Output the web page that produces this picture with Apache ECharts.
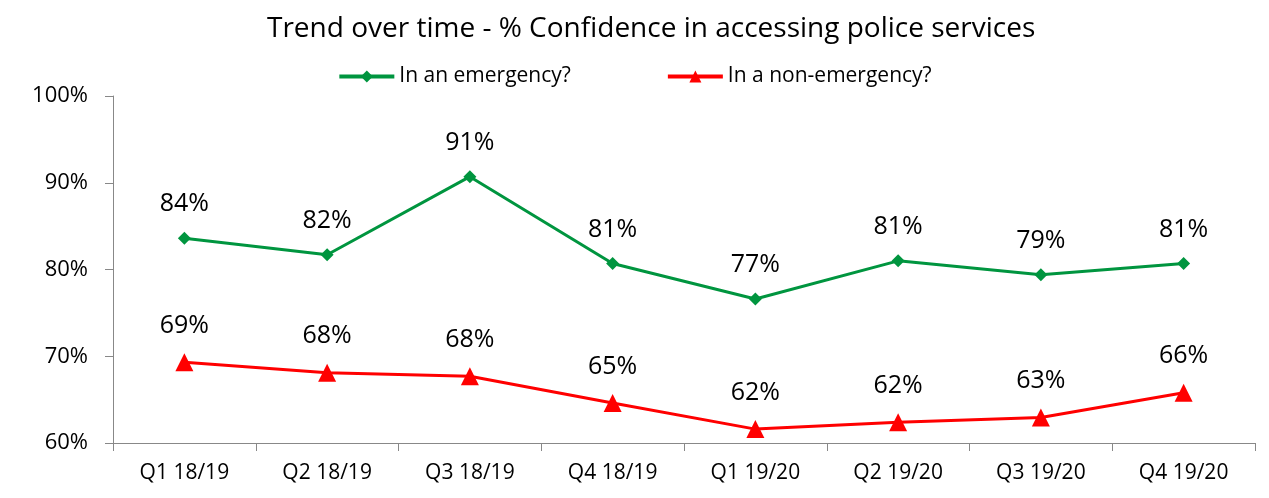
<!DOCTYPE html>
<html><head><meta charset="utf-8">
<script src="https://cdn.jsdelivr.net/npm/echarts@6/dist/echarts.min.js"></script>
<style>html,body{margin:0;padding:0;background:#fff}#c{width:1269px;height:498px}</style>
</head><body><div id="c"></div>
<script>
const categories = ['Q1 18/19','Q2 18/19','Q3 18/19','Q4 18/19','Q1 19/20','Q2 19/20','Q3 19/20','Q4 19/20'];
const emergency = [83.6, 81.7, 90.7, 80.7, 76.6, 81.0, 79.4, 80.7];
const nonEmergency = [69.3, 68.1, 67.7, 64.6, 61.6, 62.4, 62.95, 65.8];
const yTicks = [60, 70, 80, 90, 100];
const FONT = '"Open Sans", sans-serif';
const chart = echarts.init(document.getElementById('c'));
chart.setOption({
  animation: false,
  textStyle: { fontFamily: FONT },
  title: { text: 'Trend over time - % Confidence in accessing police services', left: 262, top: 10,
    textStyle: { fontFamily: FONT, fontSize: 28, fontWeight: 'normal', color: '#000' } },
  legend: { top: 61, left: 'center', itemWidth: 55, itemHeight: 15, itemGap: 95,
    lineStyle: { width: 4 },
    textStyle: { fontFamily: FONT, fontSize: 21, color: '#000' },
    data: ['In an emergency?', 'In a non-emergency?'] },
  grid: { left: 113, right: 14, top: 96, bottom: 55 },
  xAxis: { type: 'category', data: categories, boundaryGap: true,
    axisLine: { lineStyle: { color: '#888', width: 1 } },
    axisTick: { show: true, length: 8, lineStyle: { color: '#888' } },
    axisLabel: { fontFamily: FONT, fontSize: 21, color: '#000', margin: 20 } },
  yAxis: { type: 'value', min: 60, max: 100, interval: 10,
    axisLine: { show: true, lineStyle: { color: '#888', width: 1 } },
    axisTick: { show: true, length: 8, lineStyle: { color: '#888' } },
    splitLine: { show: false },
    axisLabel: { fontFamily: FONT, fontSize: 22, color: '#000', margin: 25,
      formatter: v => yTicks.includes(v) ? v + '%' : '' } },
  series: [
    { name: 'In an emergency?', type: 'line', data: emergency, symbol: 'diamond', symbolSize: 13,
      itemStyle: { color: '#00953F' }, lineStyle: { color: '#00953F', width: 3 },
      label: { show: true, position: 'top', distance: 15, fontFamily: FONT, fontSize: 25, color: '#000',
        formatter: p => Math.round(p.value) + '%' } },
    { name: 'In a non-emergency?', type: 'line', data: nonEmergency, symbol: 'triangle', symbolSize: 18,
      itemStyle: { color: '#FF0000' }, lineStyle: { color: '#FF0000', width: 3 },
      label: { show: true, position: 'top', distance: 15, fontFamily: FONT, fontSize: 25, color: '#000',
        formatter: p => Math.round(p.value) + '%' } }
  ]
});
</script></body></html>
